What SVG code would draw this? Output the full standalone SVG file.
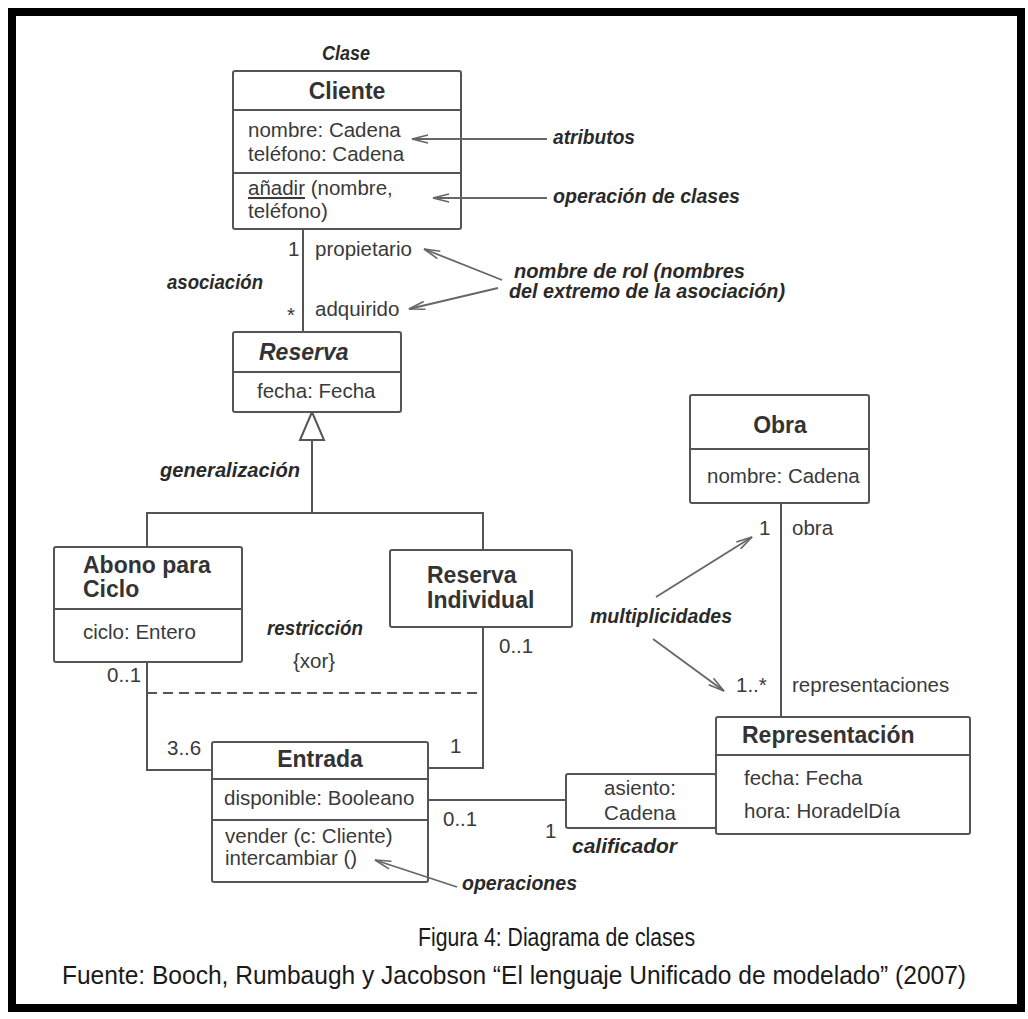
<svg xmlns="http://www.w3.org/2000/svg" width="1028" height="1019" viewBox="0 0 1028 1019">
<style>
.box{fill:#fff;stroke:#555;stroke-width:2}
.div{stroke:#555;stroke-width:2}
.ln{fill:none;stroke:#555;stroke-width:2}
.ar{fill:none;stroke:#666;stroke-width:1.8}
.t{font-family:"Liberation Sans",Arial,sans-serif;font-size:20.5px;fill:#3a3a3a}
.tb{font-family:"Liberation Sans",Arial,sans-serif;font-size:23px;font-weight:bold;fill:#333}
.bi{font-family:"Liberation Sans",Arial,sans-serif;font-size:20px;font-weight:bold;font-style:italic;fill:#2a2a2a}
.cap{font-family:"Liberation Sans",Arial,sans-serif;font-size:25px;fill:#1a1a1a}
</style>
<defs>
<marker id="open" viewBox="0 0 18 10" refX="17" refY="5" markerWidth="18" markerHeight="10" markerUnits="userSpaceOnUse" orient="auto">
<path d="M1,1 L17,5 L1,9" fill="none" stroke="#666" stroke-width="1.6"/>
</marker>
</defs>
<rect x="0" y="0" width="1028" height="1019" fill="#fff"/>
<g id="frame">
<rect x="12" y="12" width="1009" height="996" fill="none" stroke="#000" stroke-width="8"/>
</g>
<g id="connectors">
<line class="ln" x1="303" y1="229" x2="303" y2="332"/>
<polyline class="ln" points="312,440 312,513"/>
<polyline class="ln" points="147,547 147,513 483,513 483,550"/>
<polyline class="ln" points="147,662 147,770 212,770"/>
<polyline class="ln" points="483,627 483,768 428,768"/>
<line class="ln" x1="428" y1="800" x2="566" y2="800"/>
<line class="ln" x1="781" y1="503" x2="781" y2="717"/>
<line class="ln" x1="147" y1="693" x2="477" y2="693" stroke-dasharray="10,6"/>
<polygon points="312,412 300,440 324,440" fill="#fff" stroke="#555" stroke-width="2"/>
</g>
<g id="cliente">
<rect class="box" x="233" y="71" width="228" height="158" rx="2"/>
<line class="div" x1="233" y1="110" x2="461" y2="110"/>
<line class="div" x1="233" y1="173" x2="461" y2="173"/>
<text class="tb" x="347" y="99" text-anchor="middle">Cliente</text>
<text class="t" x="248" y="137">nombre: Cadena</text>
<text class="t" x="248" y="161">teléfono: Cadena</text>
<text class="t" x="248" y="195"><tspan text-decoration="underline">añadir</tspan> (nombre,</text>
<text class="t" x="248" y="218">teléfono)</text>
</g>
<g id="reserva">
<rect class="box" x="233" y="332" width="168" height="80" rx="2"/>
<line class="div" x1="233" y1="372" x2="401" y2="372"/>
<text class="tb" x="259" y="360" font-style="italic">Reserva</text>
<text class="t" x="257" y="398">fecha: Fecha</text>
</g>
<g id="abono">
<rect class="box" x="54" y="547" width="188" height="115" rx="2"/>
<line class="div" x1="54" y1="609" x2="242" y2="609"/>
<text class="tb" x="83" y="573">Abono para</text>
<text class="tb" x="83" y="597">Ciclo</text>
<text class="t" x="83" y="639">ciclo: Entero</text>
</g>
<g id="reservaIndividual">
<rect class="box" x="390" y="550" width="182" height="77" rx="2"/>
<text class="tb" x="427" y="583">Reserva</text>
<text class="tb" x="427" y="608">Individual</text>
</g>
<g id="entrada">
<rect class="box" x="212" y="742" width="216" height="140" rx="2"/>
<line class="div" x1="212" y1="779" x2="428" y2="779"/>
<line class="div" x1="212" y1="820" x2="428" y2="820"/>
<text class="tb" x="320" y="767" text-anchor="middle">Entrada</text>
<text class="t" x="224" y="805">disponible: Booleano</text>
<text class="t" x="225" y="843">vender (c: Cliente)</text>
<text class="t" x="225" y="865">intercambiar ()</text>
</g>
<g id="obra">
<rect class="box" x="690" y="395" width="179" height="108" rx="2"/>
<line class="div" x1="690" y1="449" x2="869" y2="449"/>
<text class="tb" x="780" y="433" text-anchor="middle">Obra</text>
<text class="t" x="707" y="483">nombre: Cadena</text>
</g>
<g id="asiento">
<rect class="box" x="566" y="774" width="150" height="54" rx="2"/>
<text class="t" x="640" y="795" text-anchor="middle">asiento:</text>
<text class="t" x="640" y="820" text-anchor="middle">Cadena</text>
</g>
<g id="representacion">
<rect class="box" x="716" y="717" width="254" height="117" rx="2"/>
<line class="div" x1="716" y1="755" x2="970" y2="755"/>
<text class="tb" x="742" y="743">Representación</text>
<text class="t" x="744" y="785" font-size="22">fecha: Fecha</text>
<text class="t" x="744" y="818" font-size="22">hora: HoradelDía</text>
</g>
<g id="annotation-arrows">
<line class="ar" x1="547" y1="139" x2="412" y2="139" marker-end="url(#open)"/>
<line class="ar" x1="547" y1="198" x2="433" y2="198" marker-end="url(#open)"/>
<line class="ar" x1="502" y1="280" x2="424" y2="249" marker-end="url(#open)"/>
<line class="ar" x1="498" y1="288" x2="409" y2="309" marker-end="url(#open)"/>
<line class="ar" x1="656" y1="597" x2="752" y2="537" marker-end="url(#open)"/>
<line class="ar" x1="653" y1="639" x2="724" y2="691" marker-end="url(#open)"/>
<line class="ar" x1="457" y1="887" x2="375" y2="860" marker-end="url(#open)"/>
</g>
<g id="labels">
<text class="bi" x="322" y="60" textLength="48" lengthAdjust="spacingAndGlyphs">Clase</text>
<text class="bi" x="553" y="144" textLength="82" lengthAdjust="spacingAndGlyphs">atributos</text>
<text class="bi" x="553" y="203" textLength="187" lengthAdjust="spacingAndGlyphs">operación de clases</text>
<text class="t" x="288" y="256">1</text>
<text class="t" x="315" y="256">propietario</text>
<text class="bi" x="167" y="289" textLength="96" lengthAdjust="spacingAndGlyphs">asociación</text>
<text class="t" x="287" y="322">*</text>
<text class="t" x="315" y="316">adquirido</text>
<text class="bi" x="514" y="278" textLength="231" lengthAdjust="spacingAndGlyphs">nombre de rol (nombres</text>
<text class="bi" x="509" y="298" textLength="276" lengthAdjust="spacingAndGlyphs">del extremo de la asociación)</text>
<text class="bi" x="160" y="477" textLength="140" lengthAdjust="spacingAndGlyphs">generalización</text>
<text class="bi" x="267" y="635" textLength="96" lengthAdjust="spacingAndGlyphs">restricción</text>
<text class="t" x="293" y="668">{xor}</text>
<text class="t" x="107" y="682">0..1</text>
<text class="t" x="499" y="653">0..1</text>
<text class="t" x="167" y="755">3..6</text>
<text class="t" x="450" y="753">1</text>
<text class="t" x="443" y="826">0..1</text>
<text class="t" x="545" y="838">1</text>
<text class="bi" x="572" y="853" textLength="105" lengthAdjust="spacingAndGlyphs">calificador</text>
<text class="bi" x="462" y="890" textLength="115" lengthAdjust="spacingAndGlyphs">operaciones</text>
<text class="t" x="759" y="535">1</text>
<text class="t" x="792" y="535">obra</text>
<text class="bi" x="590" y="623" textLength="142" lengthAdjust="spacingAndGlyphs">multiplicidades</text>
<text class="t" x="736" y="692">1..*</text>
<text class="t" x="792" y="692">representaciones</text>
</g>
<g id="caption">
<text class="cap" x="418" y="946" textLength="277" lengthAdjust="spacingAndGlyphs">Figura 4: Diagrama de clases</text>
<text class="cap" x="62" y="984" textLength="904" lengthAdjust="spacingAndGlyphs">Fuente: Booch, Rumbaugh y Jacobson “El lenguaje Unificado de modelado” (2007)</text>
</g>
</svg>
